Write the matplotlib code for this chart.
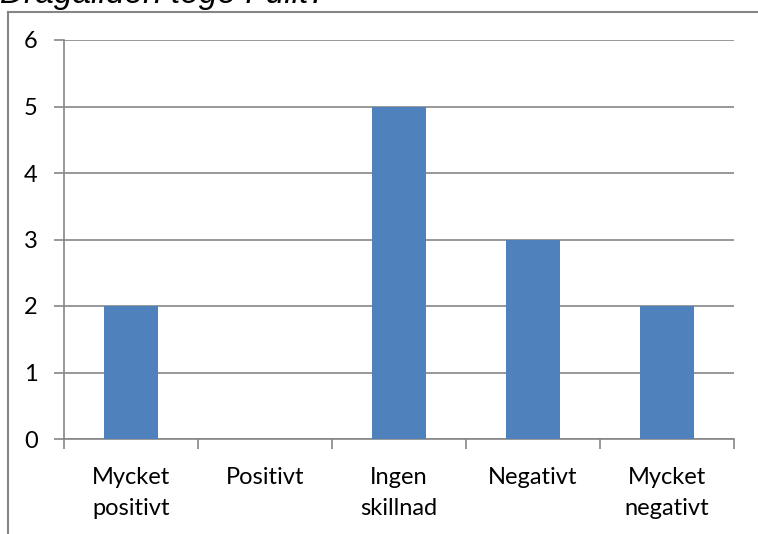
import matplotlib
matplotlib.use("Agg")
import matplotlib.pyplot as plt
from matplotlib.lines import Line2D

categories = ["Mycket\npositivt", "Positivt", "Ingen\nskillnad", "Negativt", "Mycket\nnegativt"]
values = [2, 0, 5, 3, 2]
yticks = [0, 1, 2, 3, 4, 5, 6]
title = "Dragaliden toge Fullt?"

W, H = 758, 534
fig = plt.figure(figsize=(W / 100, H / 100), dpi=100)
ax = fig.add_axes([64 / W, 1 - 439 / H, (734 - 64) / W, (439 - 40) / H])

gray = "#868686"
font = "Lato"
fs = 17
x = list(range(len(categories)))
ax.bar(x, values, width=0.4, color="#4F81BD", zorder=3)
ax.set_xlim(-0.5, len(categories) - 0.5)
ax.set_ylim(0, 6)
ax.set_yticks(yticks)
ax.set_yticklabels([str(t) for t in yticks], fontsize=fs, family=font)
ax.yaxis.grid(True, color=gray, linewidth=1.2, zorder=0)
ax.set_axisbelow(True)

ax.set_xticks([i - 0.5 for i in range(len(categories) + 1)])
ax.set_xticklabels([])
ax.set_xticks(x, minor=True)
ax.set_xticklabels(categories, minor=True, fontsize=fs, family=font, linespacing=1.6)
ax.tick_params(axis="x", which="minor", length=0, pad=20)
ax.tick_params(axis="x", which="major", length=7, color=gray, width=1.2)
ax.tick_params(axis="y", length=7, color=gray, width=1.2, pad=12)

for s in ["top", "right"]:
    ax.spines[s].set_visible(False)
for s in ["left", "bottom"]:
    ax.spines[s].set_color(gray)
    ax.spines[s].set_linewidth(1.2)

# outer chart frame
fig.add_artist(Line2D([8 / W, 8 / W], [0, 1 - 12 / H], color=gray, linewidth=1.5))
fig.add_artist(Line2D([8 / W, 1], [1 - 12 / H, 1 - 12 / H], color=gray, linewidth=1.5))

fig.text(0 / W, 1 - 3 / H, title, fontsize=24, style="italic", family="Liberation Sans",
         ha="left", va="baseline")

fig.savefig("out.png", dpi=100)
